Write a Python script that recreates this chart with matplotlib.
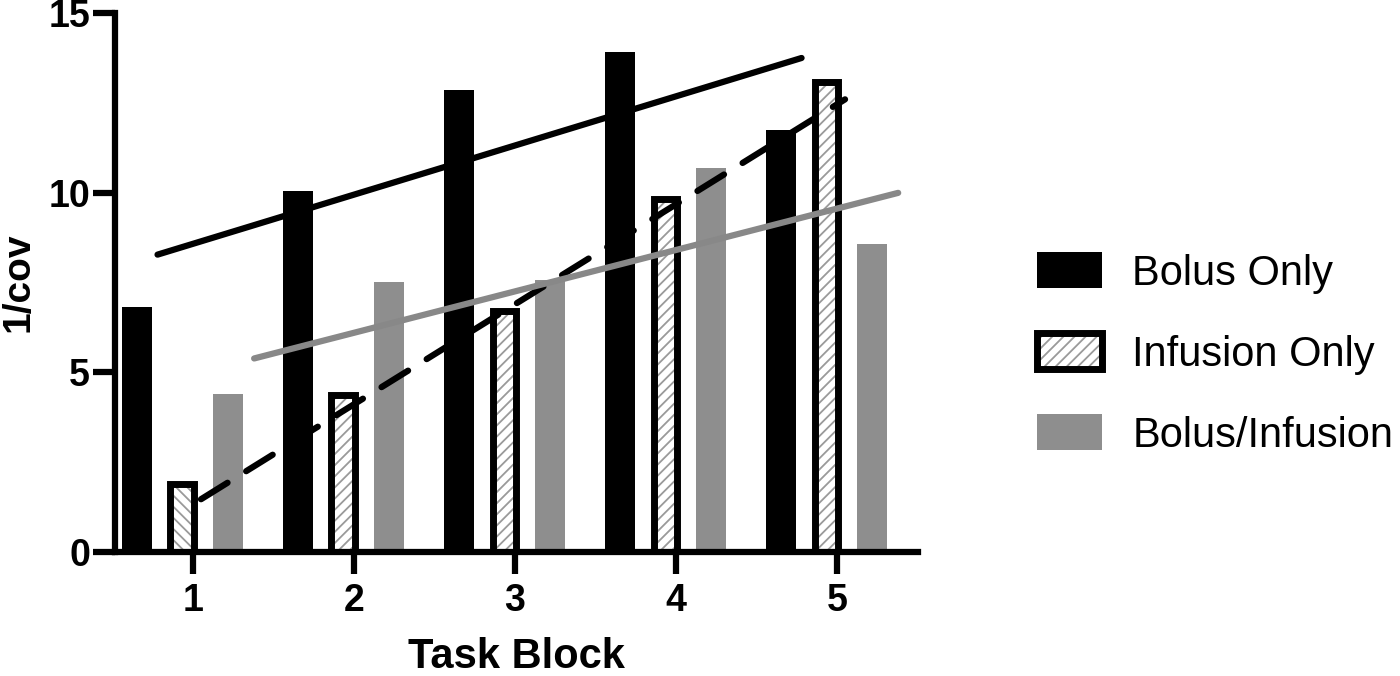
import numpy as np
import matplotlib
matplotlib.use("Agg")
import matplotlib.pyplot as plt
from matplotlib.patches import Patch

plt.rcParams['font.family'] = ['Liberation Sans', 'DejaVu Sans']
plt.rcParams['hatch.linewidth'] = 1.3

blocks = [1, 2, 3, 4, 5]
bolus_only = [6.82, 10.06, 12.87, 13.92, 11.73]
infusion_only = [1.9, 4.36, 6.7, 9.82, 13.08]
bolus_infusion = [4.40, 7.51, 7.57, 10.69, 8.57]
series_names = ['Bolus Only', 'Infusion Only', 'Bolus/Infusion']

# look
gray = '#8e8e8e'
hatch_gray = '#9a9a9a'
bar_offsets = [-0.348, -0.068, 0.217]
bar_width = 0.186
inf_width = 0.143
inf_hatches = ['\\\\\\', '///', '///', '///', '///']
line_shift = [-0.17, 0.10, 0.43]
fit_range = [0.95, 4.95]

fig = plt.figure(figsize=(14, 6.76), dpi=100)
ax = fig.add_axes([0.0821, 0.1834, 0.5736, 0.7974])

x = np.array(blocks, dtype=float)

# Bolus Only
ax.bar(x + bar_offsets[0], bolus_only, width=bar_width, color='black', zorder=2)

# Infusion Only: hatch layer then thick outline
for xi, v, h in zip(x, infusion_only, inf_hatches):
    ax.bar(xi + bar_offsets[1], v, width=inf_width, color='white',
           edgecolor=hatch_gray, hatch=h, linewidth=0, zorder=2)
ax.bar(x + bar_offsets[1], infusion_only, width=inf_width, fill=False,
       edgecolor='black', linewidth=5, zorder=3)

# Bolus/Infusion
ax.bar(x + bar_offsets[2], bolus_infusion, width=bar_width, color=gray, zorder=2)

# linear fits
xf = np.array(fit_range)
fits = [bolus_only, infusion_only, bolus_infusion]
styles = [dict(color='black', linestyle='-', solid_capstyle='round'),
          dict(color='black', linestyle=(0, (5, 3.5)), dash_capstyle='round'),
          dict(color='#888888', linestyle='-', solid_capstyle='round')]
for vals, sh, st in zip(fits, line_shift, styles):
    m, b = np.polyfit(x, vals, 1)
    ax.plot(xf + sh, m * xf + b, linewidth=4.5, zorder=4, **st)

ax.set_xlim(0.5155, 5.503)
ax.set_ylim(0, 15)
ax.set_xticks(blocks)
ax.set_yticks([0, 5, 10, 15])
for s in ['top', 'right']:
    ax.spines[s].set_visible(False)
for s in ['left', 'bottom']:
    ax.spines[s].set_linewidth(4.5)
ax.tick_params(axis='both', length=16, width=4.5, labelsize=27)
ax.tick_params(axis='x', pad=6)
ax.tick_params(axis='y', pad=2)
for lab in ax.get_xticklabels() + ax.get_yticklabels():
    lab.set_fontweight('bold')

ax.set_xlabel('Task Block', fontsize=30, fontweight='bold')
ax.set_ylabel('1/cov', fontsize=28, fontweight='bold')
ax.xaxis.set_label_coords(0.5, -0.158)
ax.yaxis.set_label_coords(-0.098, 0.5)

h1 = Patch(facecolor='black', edgecolor='none')
h2a = Patch(facecolor='white', edgecolor=hatch_gray, hatch='///', linewidth=0)
h2b = Patch(fill=False, edgecolor='black', linewidth=5)
h3 = Patch(facecolor=gray, edgecolor='none')
fig.legend([h1, (h2a, h2b), h3], series_names, loc='center left',
           bbox_to_anchor=(0.741, 0.4766), frameon=False, fontsize=30,
           borderpad=0, borderaxespad=0, handlelength=1.56, handleheight=0.96,
           handletextpad=0.72, labelspacing=0.95)

fig.savefig('out.png', dpi=100)
